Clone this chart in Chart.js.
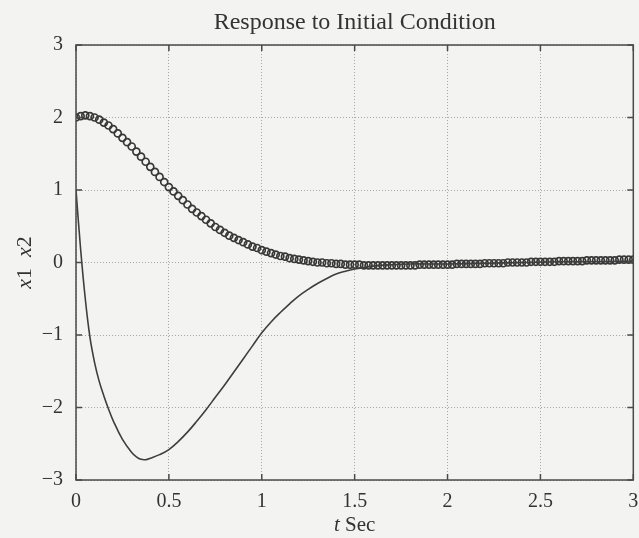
<!DOCTYPE html>
<html>
<head>
<meta charset="utf-8">
<title>Response to Initial Condition</title>
<script src="https://cdn.jsdelivr.net/npm/chart.js@4.4.1/dist/chart.umd.min.js"></script>
<style>
    html, body { margin: 0; padding: 0; background: #f3f3f1; }
    canvas { display: block; }
</style>
</head>
<body>
<canvas id="chart" width="639" height="538"></canvas>
<script>
// x1 (solid line)
const x1Time = [0, 0.025, 0.05, 0.075, 0.1, 0.125, 0.15, 0.175, 0.2, 0.25, 0.3, 0.325, 0.35, 0.375, 0.4, 0.45,
    0.5, 0.55, 0.6, 0.65, 0.7, 0.75, 0.8, 0.85, 0.9, 0.95, 1.0, 1.05, 1.1, 1.15, 1.2, 1.25,
    1.3, 1.35, 1.4, 1.45, 1.5, 1.6, 1.7, 1.8, 1.9, 2.0, 2.2, 2.4, 2.6, 2.8, 3.0];
const x1Values = [1.0, 0.18, -0.5, -1.03, -1.38, -1.64, -1.84, -2.02, -2.18, -2.44, -2.62, -2.68, -2.715, -2.72, -2.70, -2.65,
    -2.58, -2.47, -2.34, -2.19, -2.03, -1.86, -1.69, -1.51, -1.33, -1.15, -0.97, -0.82, -0.69, -0.57, -0.46, -0.37,
    -0.29, -0.22, -0.16, -0.12, -0.09, -0.05, -0.03, -0.02, -0.02, -0.02, -0.01, 0.0, 0.01, 0.01, 0.02];

// x2 (circles), one marker every 0.025 s
const x2Step = 0.025;
const x2Values = [
    2.00, 2.02, 2.03, 2.02, 2.00, 1.97, 1.93, 1.89, 1.84, 1.78,
    1.72, 1.66, 1.60, 1.53, 1.46, 1.39, 1.32, 1.25, 1.18, 1.11,
    1.04, 0.98, 0.92, 0.86, 0.80, 0.74, 0.69, 0.64, 0.59, 0.54,
    0.49, 0.45, 0.41, 0.37, 0.34, 0.31, 0.28, 0.25, 0.22, 0.20,
    0.17, 0.15, 0.13, 0.11, 0.09, 0.08, 0.06, 0.05, 0.04, 0.03,
    0.02, 0.01, 0.00, 0.00, -0.01, -0.01, -0.02, -0.02, -0.03, -0.03,
    -0.03, -0.03, -0.04, -0.04, -0.04, -0.04, -0.04, -0.04, -0.04, -0.04,
    -0.04, -0.04, -0.04, -0.04, -0.03, -0.03, -0.03, -0.03, -0.03, -0.03,
    -0.03, -0.03, -0.02, -0.02, -0.02, -0.02, -0.02, -0.02, -0.01, -0.01,
    -0.01, -0.01, -0.01, 0.00, 0.00, 0.00, 0.00, 0.00, 0.01, 0.01,
    0.01, 0.01, 0.01, 0.01, 0.02, 0.02, 0.02, 0.02, 0.02, 0.02,
    0.03, 0.03, 0.03, 0.03, 0.03, 0.03, 0.03, 0.04, 0.04, 0.04,
    0.04
];

const xTicks = [0, 0.5, 1, 1.5, 2, 2.5, 3];
const yTicks = [-3, -2, -1, 0, 1, 2, 3];

const titleText = 'Response to Initial Condition';
const serif = '"Liberation Serif", "DejaVu Serif", serif';
const ink = '#333333';
const axisColor = '#4a4a4a';
const gridColor = '#a8a8a8';

const x1Points = x1Time.map((t, i) => ({ x: t, y: x1Values[i] }));
const x2Points = x2Values.map((v, i) => ({ x: i * x2Step, y: v }));

// box, inward ticks and the two mixed-style axis labels
const frame = {
    id: 'frame',
    afterDraw(chart) {
        const { ctx, chartArea: a, scales } = chart;
        ctx.save();
        ctx.strokeStyle = axisColor;
        ctx.lineWidth = 1.5;
        ctx.strokeRect(a.left, a.top, a.right - a.left, a.bottom - a.top);

        ctx.beginPath();
        xTicks.forEach(v => {
            const px = scales.x.getPixelForValue(v);
            ctx.moveTo(px, a.bottom); ctx.lineTo(px, a.bottom - 6);
            ctx.moveTo(px, a.top); ctx.lineTo(px, a.top + 6);
        });
        yTicks.forEach(v => {
            const py = scales.y.getPixelForValue(v);
            ctx.moveTo(a.left, py); ctx.lineTo(a.left + 6, py);
            ctx.moveTo(a.right, py); ctx.lineTo(a.right - 6, py);
        });
        ctx.stroke();

        ctx.fillStyle = ink;
        ctx.textBaseline = 'alphabetic';

        // x label: italic t + " Sec"
        const italic = 'italic 21px ' + serif;
        const plain = '21px ' + serif;
        ctx.font = italic;
        const wt = ctx.measureText('t').width;
        ctx.font = plain;
        const ws = ctx.measureText(' Sec').width;
        let x0 = (a.left + a.right) / 2 - (wt + ws) / 2;
        ctx.font = italic;
        ctx.fillText('t', x0, 531);
        ctx.font = plain;
        ctx.fillText(' Sec', x0 + wt, 531);

        // y label: x1 x2 with italic x, rotated
        const yItalic = 'italic 22px ' + serif;
        const yPlain = '22px ' + serif;
        const parts = [['x', yItalic], ['1  ', yPlain], ['x', yItalic], ['2', yPlain]];
        let total = 0;
        parts.forEach(p => { ctx.font = p[1]; total += ctx.measureText(p[0]).width; });
        ctx.translate(31, (a.top + a.bottom) / 2);
        ctx.rotate(-Math.PI / 2);
        let pos = -total / 2;
        parts.forEach(p => {
            ctx.font = p[1];
            ctx.fillText(p[0], pos, 0);
            pos += ctx.measureText(p[0]).width;
        });
        ctx.restore();
    }
};

new Chart(document.getElementById('chart'), {
    type: 'scatter',
    data: {
        datasets: [
            {
                label: 'x1',
                data: x1Points,
                showLine: true,
                borderColor: '#3e3e3e',
                borderWidth: 1.6,
                pointRadius: 0,
                tension: 0.4,
            },
            {
                label: 'x2',
                data: x2Points,
                showLine: false,
                pointStyle: 'circle',
                pointRadius: 3.5,
                pointBorderWidth: 1.7,
                pointBorderColor: '#383838',
                pointBackgroundColor: 'rgba(0,0,0,0)',
            }
        ]
    },
    options: {
        responsive: false,
        animation: false,
        devicePixelRatio: 1,
        layout: { padding: { left: 0, right: 3, top: 0, bottom: 0 } },
        plugins: {
            legend: { display: false },
            tooltip: { enabled: false },
            title: {
                display: true,
                fullSize: false,
                text: titleText,
                color: ink,
                font: { family: serif, size: 24, weight: 'normal' },
                padding: { top: 8, bottom: 8.2 },
            }
        },
        scales: {
            x: {
                type: 'linear',
                min: 0,
                max: 3,
                grid: { color: gridColor, lineWidth: 1, drawTicks: false },
                border: { display: false, dash: [1, 2] },
                ticks: {
                    stepSize: 0.5,
                    padding: 10,
                    color: ink,
                    font: { family: serif, size: 20 },
                    maxRotation: 0,
                    callback: v => String(v),
                },
                afterFit(scale) {
                    scale.height = 58;
                    scale.paddingLeft = 0;
                    scale.paddingRight = 0;
                }
            },
            y: {
                type: 'linear',
                min: -3,
                max: 3,
                grid: { color: gridColor, lineWidth: 1, drawTicks: false },
                border: { display: false, dash: [1, 2] },
                ticks: {
                    stepSize: 1,
                    padding: 13,
                    color: ink,
                    font: { family: serif, size: 20 },
                    callback: v => String(v).replace('-', '\u2212'),
                },
                afterFit(scale) {
                    scale.width = 76;
                }
            }
        }
    },
    plugins: [frame]
});
</script>
</body>
</html>
